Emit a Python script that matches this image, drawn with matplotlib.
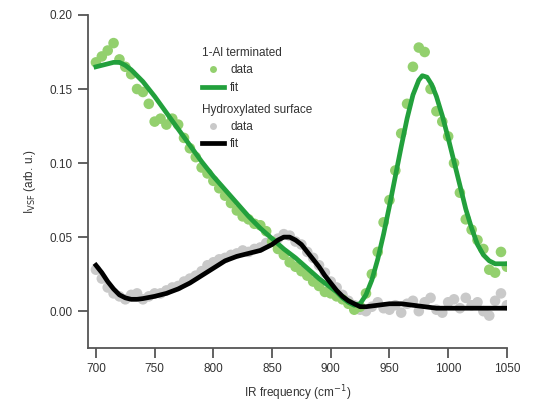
import matplotlib
matplotlib.use('Agg')
import matplotlib.pyplot as plt
from matplotlib.lines import Line2D

plt.rcParams['font.family'] = ['Liberation Sans', 'DejaVu Sans']

# IR frequency grid (cm^-1) for the measured points
freq = list(range(700, 1055, 5))

# 1-Al terminated: measured points
al_data = [0.168, 0.172, 0.176, 0.181, 0.170, 0.165, 0.160, 0.150, 0.148, 0.140,
           0.128, 0.130, 0.126, 0.130, 0.126, 0.117, 0.110, 0.104, 0.097, 0.093,
           0.088, 0.083, 0.078, 0.073, 0.068, 0.064, 0.062, 0.059, 0.058, 0.054,
           0.047, 0.042, 0.038, 0.033, 0.030, 0.027, 0.024, 0.020, 0.017, 0.013,
           0.012, 0.010, 0.008, 0.005, 0.001, 0.003, 0.012, 0.025, 0.040, 0.060,
           0.075, 0.095, 0.120, 0.140, 0.165, 0.178, 0.175, 0.150, 0.135, 0.128,
           0.118, 0.100, 0.080, 0.062, 0.055, 0.048, 0.042, 0.028, 0.026, 0.040,
           0.030]

# hydroxylated surface: measured points
oh_data = [0.028, 0.022, 0.016, 0.012, 0.010, 0.008, 0.011, 0.012, 0.008, 0.010,
           0.012, 0.012, 0.014, 0.016, 0.017, 0.020, 0.022, 0.024, 0.027, 0.031,
           0.033, 0.035, 0.036, 0.038, 0.039, 0.041, 0.040, 0.042, 0.043, 0.046,
           0.047, 0.049, 0.052, 0.051, 0.047, 0.045, 0.040, 0.036, 0.031, 0.026,
           0.020, 0.016, 0.011, 0.007, 0.004, 0.001, 0.000, 0.003, 0.006, 0.002,
           0.001, 0.004, -0.001, 0.005, 0.007, 0.000, 0.006, 0.009, 0.001, -0.001,
           0.006, 0.008, 0.002, 0.009, 0.004, 0.006, 0.000, -0.003, 0.007, 0.012,
           0.004]

# fit curves
al_fit_x = [700, 705, 710, 715, 720, 725, 730, 735, 740, 745, 750, 760, 770, 780,
            790, 800, 810, 820, 830, 840, 850, 860, 870, 880, 890, 900, 905, 910,
            915, 920, 925, 930, 935, 940, 945, 950, 955, 960, 965, 970, 975, 978,
            982, 986, 990, 995, 1000, 1005, 1010, 1015, 1020, 1025, 1030, 1035,
            1040, 1045, 1050]
al_fit_y = [0.165, 0.166, 0.167, 0.168, 0.168, 0.166, 0.163, 0.159, 0.155, 0.150,
            0.145, 0.134, 0.123, 0.112, 0.101, 0.091, 0.082, 0.073, 0.064, 0.056,
            0.049, 0.042, 0.036, 0.029, 0.022, 0.016, 0.013, 0.009, 0.006, 0.004,
            0.005, 0.011, 0.021, 0.035, 0.052, 0.071, 0.091, 0.111, 0.130, 0.146,
            0.156, 0.159, 0.158, 0.153, 0.145, 0.132, 0.117, 0.101, 0.085, 0.069,
            0.056, 0.045, 0.038, 0.034, 0.032, 0.032, 0.032]

oh_fit_x = [700, 705, 710, 715, 720, 725, 730, 735, 740, 750, 760, 770, 780, 790,
            800, 810, 820, 830, 840, 850, 855, 860, 865, 870, 875, 880, 885, 890,
            895, 900, 905, 910, 915, 920, 925, 930, 940, 950, 960, 970, 980, 990,
            1000, 1020, 1050]
oh_fit_y = [0.031, 0.026, 0.020, 0.015, 0.011, 0.009, 0.008, 0.008, 0.0085, 0.010,
            0.012, 0.015, 0.019, 0.024, 0.029, 0.034, 0.037, 0.039, 0.041, 0.045,
            0.048, 0.050, 0.050, 0.048, 0.045, 0.040, 0.035, 0.030, 0.024, 0.019,
            0.014, 0.010, 0.007, 0.005, 0.003, 0.003, 0.004, 0.005, 0.005, 0.004,
            0.003, 0.002, 0.002, 0.002, 0.002]

x_ticks = [700, 750, 800, 850, 900, 950, 1000, 1050]
y_ticks = [0.00, 0.05, 0.10, 0.15, 0.20]

light_green = '#93d06e'
dark_green = '#22a03c'
light_gray = '#c9c9c9'
axis_col = '#555555'
text_col = '#333333'

fig = plt.figure(figsize=(5.45, 4.16), dpi=100)
ax = fig.add_axes([0.161, 0.163, 0.769, 0.801])

ax.scatter(freq, oh_data, s=58, color=light_gray, edgecolors='none', zorder=1)
ax.scatter(freq, al_data, s=58, color=light_green, edgecolors='none', zorder=2)
ax.plot(al_fit_x, al_fit_y, color=dark_green, lw=3.4, zorder=3)
ax.plot(oh_fit_x, oh_fit_y, color='black', lw=3.4, zorder=4)

ax.set_xlim(693, 1050)
ax.set_ylim(-0.025, 0.20)
ax.set_xticks(x_ticks)
ax.set_yticks(y_ticks)
ax.set_yticklabels([f'{v:.2f}' for v in y_ticks])

for side in ['top', 'right']:
    ax.spines[side].set_visible(False)
for side in ['left', 'bottom']:
    ax.spines[side].set_color(axis_col)
    ax.spines[side].set_linewidth(1.3)
ax.tick_params(direction='out', length=7, width=1.3, color=axis_col,
               labelsize=8.5, labelcolor=text_col, pad=4)

ax.set_xlabel('IR frequency (cm$^{-1}$)', fontsize=8.5, color=text_col, labelpad=6)
ax.set_ylabel(r'I$_{\mathrm{VSF}}$ (arb. u.)', fontsize=8.5, color=text_col, labelpad=8)

h1 = [Line2D([], [], ls='none', marker='o', ms=5, color=light_green, mec='none'),
      Line2D([], [], color=dark_green, lw=3.4)]
h2 = [Line2D([], [], ls='none', marker='o', ms=5, color=light_gray, mec='none'),
      Line2D([], [], color='black', lw=3.4)]
leg_kw = dict(frameon=False, loc='upper left', fontsize=8.5, title_fontsize=8.5,
              handlelength=1.9, handletextpad=0.5, labelspacing=0.45,
              borderpad=0.1, labelcolor=text_col)
leg1 = ax.legend(h1, ['data', 'fit'], title='1-Al terminated',
                 bbox_to_anchor=(0.255, 0.925), **leg_kw)
leg1._legend_box.align = 'left'
leg1.get_title().set_color(text_col)
ax.add_artist(leg1)
leg2 = ax.legend(h2, ['data', 'fit'], title='Hydroxylated surface',
                 bbox_to_anchor=(0.255, 0.755), **leg_kw)
leg2._legend_box.align = 'left'
leg2.get_title().set_color(text_col)

fig.savefig('out.png', dpi=100)
